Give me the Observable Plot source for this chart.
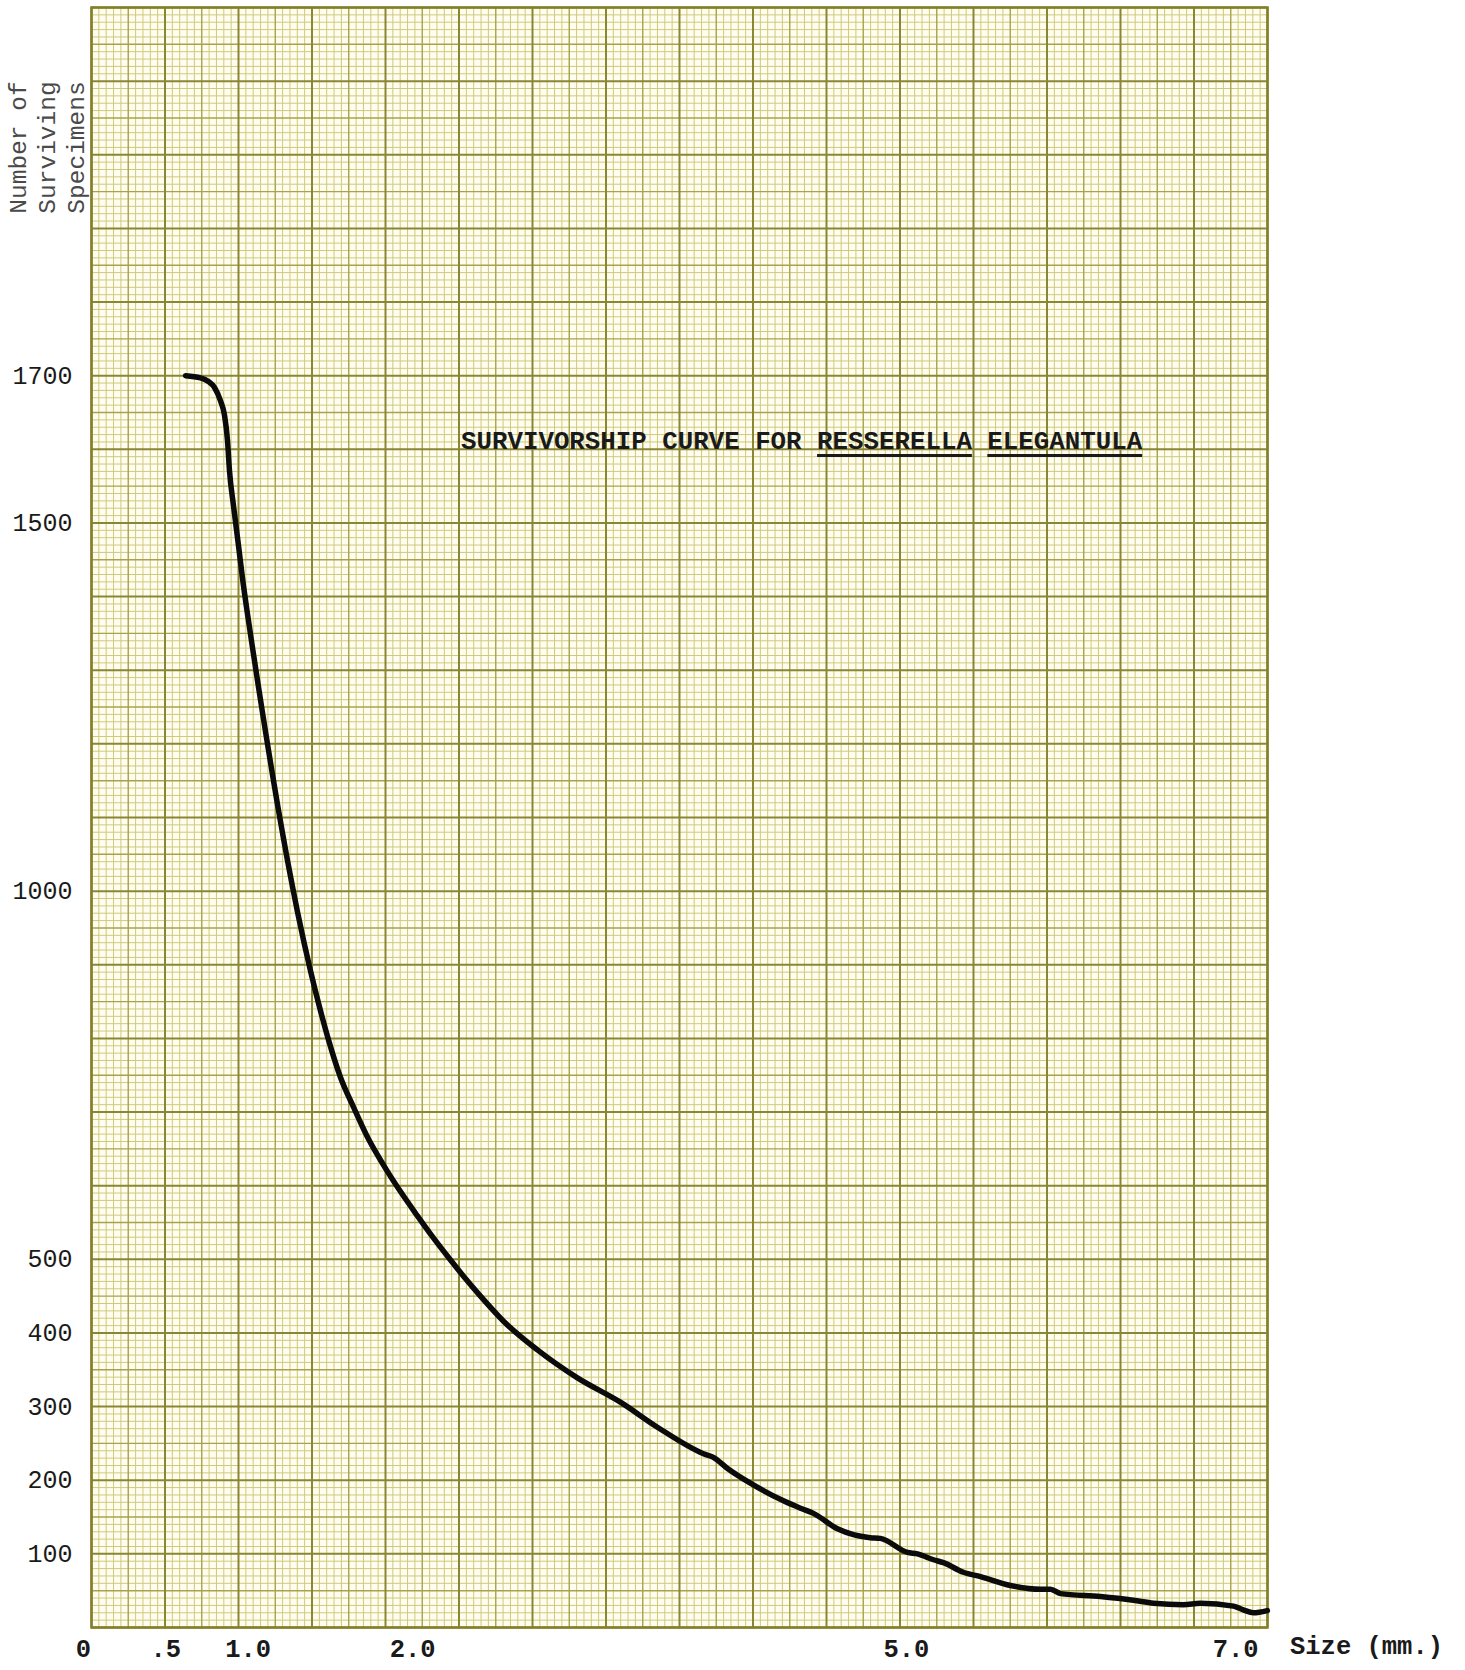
<!DOCTYPE html>
<html>
<head>
<meta charset="utf-8">
<script src="https://cdn.jsdelivr.net/npm/d3@7"></script>
<script src="https://cdn.jsdelivr.net/npm/@observablehq/plot@0.6"></script>
<style>
  html, body { margin: 0; padding: 0; background: #ffffff; }
  #wrap { position: relative; width: 1465px; height: 1670px; overflow: hidden; }
  #paper, #chart { position: absolute; left: 0; top: 0; }
  .type { font-family: "Liberation Mono", "DejaVu Sans Mono", monospace; color: #1a1a1a; position: absolute; white-space: pre; }
  #title { left: 461px; top: 428px; font-size: 25.8px; font-weight: bold; line-height: 30px; }
  #title u { text-decoration-thickness: 3px; text-underline-offset: 5px; }
  #ytitle { left: -27px; top: 104px; width: 150px; height: 87px; font-size: 24.5px; line-height: 29px; text-align: center; color: #4a4a4a; transform: rotate(-90deg); transform-origin: 50% 50%; }
  #xtitle { left: 1290px; top: 1633px; font-size: 25.5px; font-weight: bold; line-height: 30px; }
</style>
</head>
<body>
<div id="wrap">
  <div id="paper"></div>
  <div id="chart"></div>
  <div id="title" class="type">SURVIVORSHIP CURVE FOR <u>RESSERELLA</u> <u>ELEGANTULA</u></div>
  <div id="ytitle" class="type">Number of
Surviving
Specimens</div>
  <div id="xtitle" class="type">Size (mm.)</div>
</div>
<script>
// ---- Data (size in mm, number of surviving specimens) ----
const sizeMm = [
  0.620, 0.711, 0.759, 0.796, 0.832, 0.857, 0.875, 0.887, 0.911, 0.942,
  0.966, 0.996, 1.030, 1.060, 1.090, 1.120, 1.150, 1.180, 1.210, 1.240,
  1.270, 1.300, 1.340, 1.380, 1.430, 1.490, 1.560, 1.640, 1.730, 1.823,
  1.926, 2.029, 2.126, 2.230, 2.309, 2.412, 2.552, 2.758, 3.001, 3.262,
  3.487, 3.767, 3.827, 3.913, 4.052, 4.253, 4.356, 4.435, 4.581, 4.678,
  4.781, 4.842, 5.006, 5.067, 5.164, 5.225, 5.346, 5.450, 5.632, 5.814,
  5.875, 5.936, 6.179, 6.379, 6.501, 6.683, 6.786, 6.987, 7.047, 7.108,
  7.193
];
const survivors = [
  1700, 1697, 1692, 1684, 1666, 1646, 1612, 1571, 1524, 1469,
  1425, 1377, 1326, 1282, 1239, 1197, 1156, 1116, 1078, 1041,
  1006, 972, 930, 891, 846, 797, 748, 707, 664, 628,
  592, 559, 529, 499, 477, 450, 416, 377, 339, 306,
  272, 236, 231, 216, 196, 172, 162, 155, 134, 126,
  122, 121, 102, 100, 92, 88, 75, 69, 57, 52,
  52, 46, 42, 37, 33, 31, 33, 29, 24, 20,
  23
];

// Axis ticks and their typed labels
const xTickValues = [0, 0.5, 1, 2, 5, 7];
const xTickLabels = ["0", ".5", "1.0", "2.0", "5.0", "7.0"];
const yTickValues = [100, 200, 300, 400, 500, 1000, 1500, 1700];
const yTickLabels = ["100", "200", "300", "400", "500", "1000", "1500", "1700"];

// Graph paper: 16 x 22 heavy squares, each divided into 10 x 10 fine squares
const paperCols = 160;
const paperRows = 220;

// ---- Layout ----
const W = 1465, H = 1670;
const M = {left: 91, right: 198, top: 7, bottom: 43};

const fineX = d3.range(0, paperCols + 1).filter(i => i % 5 !== 0);
const midX = d3.range(0, paperCols + 1).filter(i => i % 5 === 0 && i % 10 !== 0);
const heavyX = d3.range(0, paperCols + 1).filter(i => i % 10 === 0);
const fineY = d3.range(0, paperRows + 1).filter(i => i % 5 !== 0);
const midY = d3.range(0, paperRows + 1).filter(i => i % 5 === 0 && i % 10 !== 0);
const heavyY = d3.range(0, paperRows + 1).filter(i => i % 10 === 0);

const paper = Plot.plot({
  width: W, height: H,
  marginLeft: M.left, marginRight: M.right, marginTop: M.top, marginBottom: M.bottom,
  style: {background: "transparent"},
  x: {domain: [0, paperCols], axis: null},
  y: {domain: [0, paperRows], axis: null},
  marks: [
    Plot.frame({fill: "#fefdef", stroke: null}),
    Plot.ruleX(fineX, {stroke: "#d0c97c", strokeWidth: 1}),
    Plot.ruleY(fineY, {stroke: "#d0c97c", strokeWidth: 1}),
    Plot.ruleX(midX, {stroke: "#a9a24a", strokeWidth: 1.4}),
    Plot.ruleY(midY, {stroke: "#a9a24a", strokeWidth: 1.4}),
    Plot.ruleX(heavyX, {stroke: "#8b8632", strokeWidth: 2}),
    Plot.ruleY(heavyY, {stroke: "#8b8632", strokeWidth: 2}),
    Plot.frame({stroke: "#838029", strokeWidth: 2.5})
  ]
});
document.getElementById("paper").appendChild(paper);

const xLabel = new Map(xTickValues.map((v, i) => [v, xTickLabels[i]]));
const yLabel = new Map(yTickValues.map((v, i) => [v, yTickLabels[i]]));
const points = sizeMm.map((s, i) => ({size: s, n: survivors[i]}));

const chart = Plot.plot({
  width: W, height: H,
  marginLeft: M.left, marginRight: M.right, marginTop: M.top, marginBottom: M.bottom,
  style: {background: "transparent", overflow: "visible"},
  x: {domain: [0, 7.2], range: [83, 1268], label: null},
  y: {domain: [0, 2200], label: null},
  marks: [
    Plot.axisX(xTickValues, {
      tickSize: 0, tickPadding: 11, tickFormat: d => xLabel.get(d), label: null,
      fontSize: 25.5, fontWeight: "bold", fontFamily: "Liberation Mono, DejaVu Sans Mono, monospace", fill: "#1a1a1a"
    }),
    Plot.axisY(yTickValues, {
      tickSize: 0, tickPadding: 19, tickFormat: d => yLabel.get(d), label: null,
      fontSize: 25, fontFamily: "Liberation Mono, DejaVu Sans Mono, monospace", fill: "#1a1a1a"
    }),
    Plot.line(points, {
      x: "size", y: "n", curve: "monotone-x",
      stroke: "#0b0b0b", strokeWidth: 5.5, strokeLinejoin: "round", strokeLinecap: "round"
    })
  ]
});
document.getElementById("chart").appendChild(chart);
</script>
</body>
</html>
